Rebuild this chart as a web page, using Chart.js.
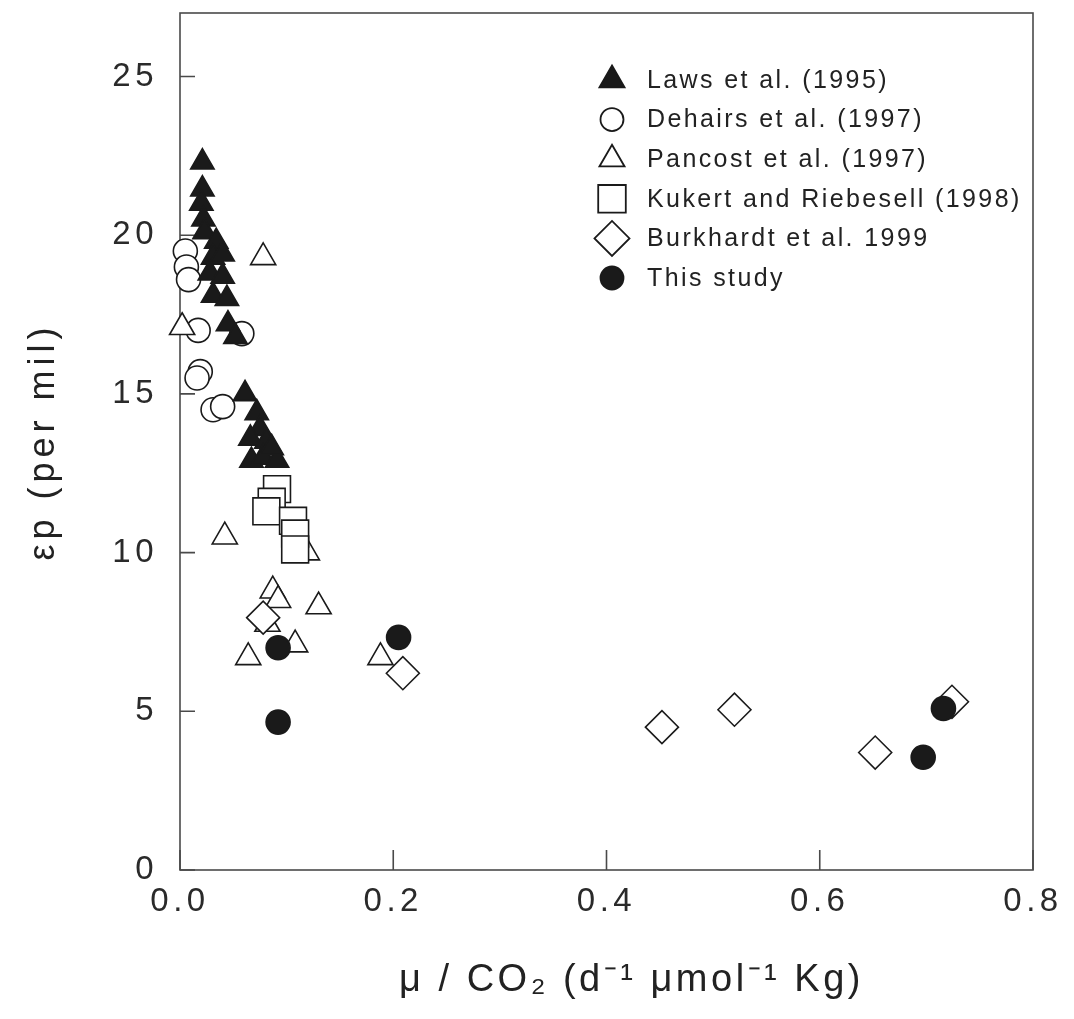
<!DOCTYPE html>
<html><head><meta charset="utf-8">
<script src="https://cdn.jsdelivr.net/npm/chart.js@4.4.1/dist/chart.umd.min.js"></script>
<style>html,body{margin:0;padding:0;background:#fff}#wrap{width:1074px;height:1019px}</style>
</head><body><div id="wrap"><canvas id="c" width="1074" height="1019"></canvas></div>
<script>
// ---- data ----
const seriesLabels = ['Laws et al. (1995)', 'Dehairs et al. (1997)', 'Pancost et al. (1997)', 'Kukert and Riebesell (1998)', 'Burkhardt et al. 1999', 'This study'];
const lawsX = [0.021,0.021,0.020,0.022,0.023,0.034,0.031,0.040,0.028,0.040,0.031,0.044,0.045,0.052,0.061,0.072,0.075,0.066,0.081,0.067,0.078,0.091,0.086];
const lawsY = [22.3,21.45,21.0,20.5,20.1,19.8,19.3,19.4,18.8,18.7,18.1,18.0,17.2,16.8,15.0,14.4,13.9,13.6,13.5,12.9,13.0,12.9,13.3];
const dehairsX = [0.005,0.006,0.008,0.017,0.019,0.016,0.031,0.040,0.058];
const dehairsY = [19.5,19.0,18.6,17.0,15.7,15.5,14.5,14.6,16.9];
const pancostX = [0.078,0.002,0.042,0.119,0.087,0.092,0.130,0.082,0.108,0.064,0.188];
const pancostY = [19.3,17.1,10.5,10.0,8.8,8.5,8.3,7.75,7.1,6.7,6.7];
const kukertX = [0.091,0.086,0.081,0.106,0.108,0.108];
const kukertY = [12.0,11.6,11.3,11.0,10.6,10.1];
const burkhardtX = [0.078,0.209,0.452,0.520,0.652,0.724];
const burkhardtY = [7.95,6.2,4.5,5.05,3.7,5.3];
const studyX = [0.092,0.092,0.205,0.697,0.716];
const studyY = [7.0,4.66,7.33,3.55,5.09];
const xTicks = [0.0,0.2,0.4,0.6,0.8];
const yTicks = [0,5,10,15,20,25];
const xTitle = 'μ / CO₂ (d⁻¹ μmol⁻¹ Kg)';
const yTitle = 'εp (per mil)';

const FONT = "'Liberation Sans', Arial, Helvetica, sans-serif";
const INK = '#1a1a1a';
const pts = (xs, ys) => xs.map((x, i) => ({x: x, y: ys[i]}));

const styles = [
  {pointStyle: 'triangle', radius: 13.5, fill: INK, order: 1},
  {pointStyle: 'circle', radius: 12, fill: '#fff', order: 5},
  {pointStyle: 'triangle', radius: 14.5, fill: '#fff', order: 4},
  {pointStyle: 'rect', radius: 19, fill: '#fff', order: 3},
  {pointStyle: 'rectRot', radius: 16.5, fill: '#fff', order: 2},
  {pointStyle: 'circle', radius: 12, fill: INK, order: 0}
];
const legendStyles = [
  {pointStyle: 'triangle', radius: 14.5},
  {pointStyle: 'circle', radius: 11.5},
  {pointStyle: 'triangle', radius: 14.5},
  {pointStyle: 'rect', radius: 19.5},
  {pointStyle: 'rectRot', radius: 17.5},
  {pointStyle: 'circle', radius: 11.5}
];
const allData = [pts(lawsX, lawsY), pts(dehairsX, dehairsY), pts(pancostX, pancostY), pts(kukertX, kukertY), pts(burkhardtX, burkhardtY), pts(studyX, studyY)];

const datasets = allData.map((d, i) => ({
  label: seriesLabels[i],
  data: d,
  pointStyle: styles[i].pointStyle,
  pointRadius: styles[i].radius,
  pointHoverRadius: styles[i].radius,
  backgroundColor: styles[i].fill,
  borderColor: INK,
  borderWidth: 1.6,
  order: styles[i].order,
  clip: false
}));

function ownPoint(ctx, st, x, y) {
  const r = st.radius;
  ctx.beginPath();
  if (st.pointStyle === 'circle') ctx.arc(x, y, r, 0, Math.PI * 2);
  else if (st.pointStyle === 'triangle') {
    for (let k = 0; k < 3; k++) {
      const a = k * 2 * Math.PI / 3;
      const px = x + Math.sin(a) * r, py = y - Math.cos(a) * r;
      k ? ctx.lineTo(px, py) : ctx.moveTo(px, py);
    }
    ctx.closePath();
  } else if (st.pointStyle === 'rect') {
    const s = r * Math.SQRT1_2; ctx.rect(x - s, y - s, 2 * s, 2 * s);
  } else {
    ctx.moveTo(x, y - r); ctx.lineTo(x + r, y); ctx.lineTo(x, y + r); ctx.lineTo(x - r, y); ctx.closePath();
  }
  ctx.fill(); ctx.stroke();
}

// loose tracking as in the scanned figure (and a small title offset)
function track(scale, labelSp, titleSp, titleDx) {
  if (scale._tracked) return;
  scale._tracked = true;
  const dl = scale.drawLabels.bind(scale);
  const dt = scale.drawTitle.bind(scale);
  scale.drawLabels = function (ca) { const c = this.ctx; c.save(); c.letterSpacing = labelSp + 'px'; dl(ca); c.restore(); };
  scale.drawTitle = function (ca) { const c = this.ctx; c.save(); c.letterSpacing = titleSp + 'px'; c.translate(titleDx, 0); dt(ca); c.restore(); };
}

const framePlugin = {
  id: 'frame',
  beforeDatasetsDraw(chart) {
    const {ctx, chartArea: a, scales} = chart;
    ctx.save();
    ctx.strokeStyle = '#4a4a4a';
    ctx.lineWidth = 1.6;
    ctx.strokeRect(a.left, a.top, a.right - a.left, a.bottom - a.top);
    ctx.beginPath();
    xTicks.forEach(v => {
      const px = scales.x.getPixelForValue(v);
      ctx.moveTo(px, a.bottom); ctx.lineTo(px, a.bottom - 20);
    });
    yTicks.forEach(v => {
      const py = scales.y.getPixelForValue(v);
      ctx.moveTo(a.left, py); ctx.lineTo(a.left + 15, py);
    });
    ctx.stroke();
    ctx.restore();
  },
  afterDraw(chart) {
    const ctx = chart.ctx;
    const mx = 612, tx = 647, y0 = 80, dy = 39.6;
    ctx.save();
    ctx.font = '25px ' + FONT;
    ctx.letterSpacing = '2.4px';
    ctx.textBaseline = 'middle';
    ctx.textAlign = 'left';
    chart.data.datasets.forEach((ds, i) => {
      const y = y0 + i * dy;
      const st = legendStyles[i];
      ctx.fillStyle = ds.backgroundColor;
      ctx.strokeStyle = INK;
      ctx.lineWidth = 1.8;
      const dp = Chart.helpers && Chart.helpers.drawPoint;
      if (dp) dp(ctx, {pointStyle: st.pointStyle, radius: st.radius, rotation: 0, borderWidth: 1.8}, mx, y);
      else ownPoint(ctx, st, mx, y);
      ctx.fillStyle = '#222';
      ctx.fillText(ds.label, tx, y + 1);
    });
    ctx.restore();
  }
};

new Chart(document.getElementById('c'), {
  type: 'scatter',
  data: {datasets: datasets},
  plugins: [framePlugin],
  options: {
    responsive: false,
    devicePixelRatio: 1,
    animation: false,
    layout: {autoPadding: false, padding: {top: 13, right: 41, left: 0, bottom: 0}},
    plugins: {legend: {display: false}, tooltip: {enabled: false}},
    scales: {
      x: {
        type: 'linear', min: 0, max: 0.8,
        afterBuildTicks: s => { s.ticks = xTicks.map(v => ({value: v})); },
        afterFit: s => { s.height = 149; s.paddingLeft = 0; s.paddingRight = 0; track(s, 4.5, 3.5, 25); },
        ticks: {callback: v => Number(v).toFixed(1), font: {size: 33, family: FONT}, color: '#2a2a2a', padding: 12, maxRotation: 0, autoSkip: false},
        grid: {display: true, drawOnChartArea: false, drawTicks: false},
        border: {display: false},
        title: {display: true, text: xTitle, font: {size: 38, family: FONT}, color: '#222', padding: {top: 0, bottom: 16}}
      },
      y: {
        type: 'linear', min: 0, max: 27,
        afterBuildTicks: s => { s.ticks = yTicks.map(v => ({value: v})); },
        afterFit: s => { s.width = 180; s.paddingTop = 0; s.paddingBottom = 0; track(s, 4.5, 5, 0); },
        ticks: {font: {size: 33, family: FONT}, color: '#2a2a2a', padding: 22, autoSkip: false},
        grid: {display: true, drawOnChartArea: false, drawTicks: false},
        border: {display: false},
        title: {display: true, text: yTitle, font: {size: 36, family: FONT}, color: '#222', padding: {top: 22, bottom: 0}}
      }
    }
  }
});
</script>
</body></html>
